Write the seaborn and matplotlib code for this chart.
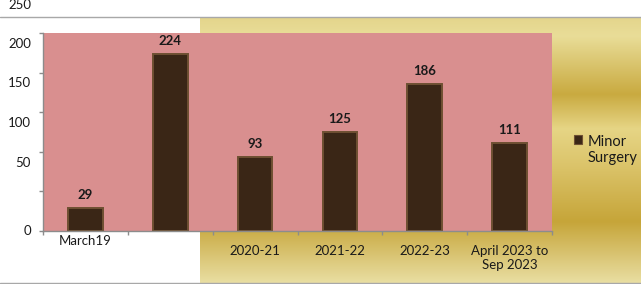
import numpy as np
import pandas as pd
import matplotlib
matplotlib.use("Agg")
import matplotlib.pyplot as plt
import matplotlib.transforms as mtransforms
from matplotlib.colors import LinearSegmentedColormap
from matplotlib.lines import Line2D
from matplotlib.patches import Patch
import seaborn as sns

# ---- data ----
categories = ["March19", "2019-20", "2020-21", "2021-22", "2022-23", "April 2023 to Sep 2023"]
tick_labels = ["March19", "", "2020-21", "2021-22", "2022-23", "April 2023 to\nSep 2023"]
values = [29, 224, 93, 125, 186, 111]
series_name = "Minor\nSurgery"
ytick_texts = ["0", "50", "100", "150", "200", "250"]

sns.set_theme(style="white")
plt.rcParams["font.family"] = ["Lato", "DejaVu Sans"]

W, H = 641, 284
fig = plt.figure(figsize=(W / 100, H / 100), dpi=100)
fig.patch.set_facecolor("white")

# gold gradient background (right part of chart area)
bg = fig.add_axes([200 / W, 1 / H, 441 / W, 266 / H], zorder=0)
stops = [(0.0, "#e4d58c"), (0.07, "#e9dd98"), (0.29, "#c9aa40"),
         (0.42, "#e6d585"), (0.55, "#dcc56c"), (0.77, "#c6a539"),
         (1.0, "#e9dea2")]
cmap = LinearSegmentedColormap.from_list("gold", stops)
grad = np.linspace(0, 1, 256).reshape(-1, 1)
bg.imshow(grad, aspect="auto", cmap=cmap, extent=[0, 1, 1, 0])
bg.set_axis_off()

# border lines
fig.add_artist(Line2D([0, 1], [1 - 17 / H, 1 - 17 / H], color="#a8a8a8", lw=1, transform=fig.transFigure))
fig.add_artist(Line2D([0, 1], [1 - 283 / H, 1 - 283 / H], color="#a8a8a8", lw=1, transform=fig.transFigure))

# main axes
ax = fig.add_axes([43 / W, (H - 231) / H, 509 / W, 198 / H], zorder=2)
ax.set_facecolor("#d98f8f")

df = pd.DataFrame({"category": categories, "value": values})
sns.barplot(data=df, x="category", y="value", order=categories, ax=ax,
            color="#3a2616", width=0.41, saturation=1,
            edgecolor="#6e5032", linewidth=1.4)

ax.set_ylim(0, 250)
ax.set_xlim(-0.5, len(categories) - 0.5)
ax.set_xlabel("")
ax.set_ylabel("")

# data labels
ax.bar_label(ax.containers[0], labels=[str(v) for v in values], padding=5,
             fontsize=9.5, fontweight="bold", color="#1a1a1a")

# spines
for s in ["top", "right"]:
    ax.spines[s].set_visible(False)
for s in ["left", "bottom"]:
    ax.spines[s].set_color("#8c8c8c")
    ax.spines[s].set_linewidth(1)

# y ticks (marks at 0..250, labels drawn as in the reference)
ax.set_yticks([0, 50, 100, 150, 200, 250])
ax.set_yticklabels([])
ax.tick_params(axis="y", direction="out", length=3, color="#8c8c8c", width=1, left=True)
ylabel_pos = [0, 86, 136, 187, 236, 285]
ytr = mtransforms.blended_transform_factory(ax.transAxes, ax.transData)
for txt, yp in zip(ytick_texts, ylabel_pos):
    ax.text(-12 / 509, yp, txt, transform=ytr, ha="right", va="center",
            fontsize=9.5, color="#1a1a1a", clip_on=False)

# x ticks: marks at boundaries, labels at centers
ax.set_xticks(np.arange(-0.5, len(categories), 1.0))
ax.set_xticklabels([])
ax.tick_params(axis="x", direction="out", length=3, color="#8c8c8c", width=1, bottom=True)
ax.set_xticks(np.arange(len(categories)), minor=True)
ax.set_xticklabels(tick_labels, minor=True, fontsize=9.5, color="#1a1a1a")
ax.tick_params(axis="x", which="minor", length=0, pad=10)
for lbl in ax.get_xticklabels(minor=True):
    if lbl.get_text() == "March19":
        lbl.set_transform(lbl.get_transform() + mtransforms.ScaledTranslation(0, 10 / 100, fig.dpi_scale_trans))

# legend
handle = Patch(facecolor="#3a2616", edgecolor="#6e5032", linewidth=0.8)
leg = fig.legend(handles=[handle], labels=[series_name], loc="center left",
                 bbox_to_anchor=(574 / W, 1 - 150 / H), frameon=False,
                 fontsize=10.5, handlelength=0.55, handleheight=0.55,
                 handletextpad=0.4, borderaxespad=0, borderpad=0)
for t in leg.get_texts():
    t.set_color("#1a1a1a")
    t.set_multialignment("left")


def _set_top(box):
    for child in box.get_children():
        if type(child).__name__ == "HPacker":
            child.align = "top"
        if hasattr(child, "get_children"):
            _set_top(child)


_set_top(leg._legend_handle_box)

fig.savefig("out.png", dpi=100)
